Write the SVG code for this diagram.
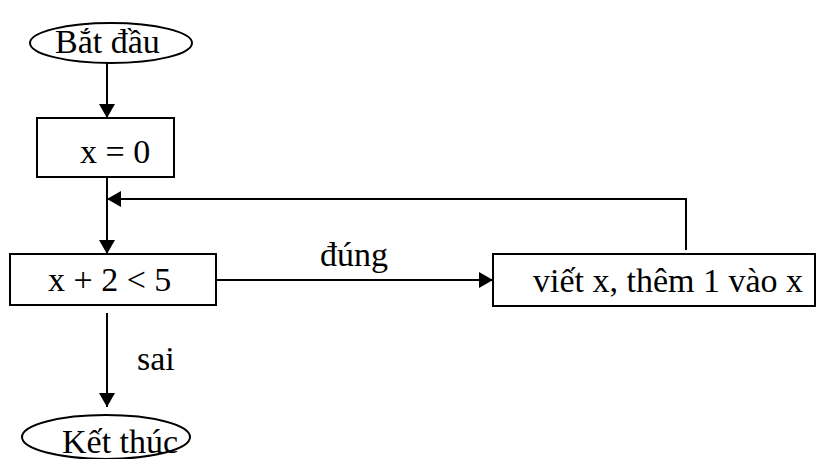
<svg xmlns="http://www.w3.org/2000/svg" width="818" height="459" viewBox="0 0 818 459">
<style>
.t{font-family:"Liberation Serif","Times New Roman",serif;font-size:34px;fill:#000}
.s{fill:#fff;stroke:#000;stroke-width:2}
.c{fill:none;stroke:#000;stroke-width:2}
</style>
<defs>
<marker id="ah" viewBox="0 0 14 16" refX="14" refY="8" markerWidth="14" markerHeight="16" markerUnits="userSpaceOnUse" orient="auto">
<path d="M0,0 L14,8 L0,16 Z" fill="#000"/>
</marker>
</defs>
<rect width="818" height="459" fill="#fff"/>
<g id="connectors">
<line class="c" x1="107" y1="63" x2="107" y2="118" marker-end="url(#ah)"/>
<line class="c" x1="107" y1="177" x2="107" y2="254" marker-end="url(#ah)"/>
<polyline class="c" points="686,250 686,199 107,199" marker-end="url(#ah)"/>
<line class="c" x1="216" y1="280" x2="493" y2="280" marker-end="url(#ah)"/>
<line class="c" x1="107" y1="313" x2="107" y2="407" marker-end="url(#ah)"/>
<text class="t" x="320" y="266">đúng</text>
<text class="t" x="137" y="370">sai</text>
</g>
<g id="start">
<ellipse class="s" cx="111" cy="43" rx="81" ry="20"/>
<text class="t" x="55" y="53">Bắt đầu</text>
</g>
<g id="init">
<rect class="s" x="37" y="118" width="137" height="59"/>
<text class="t" x="80" y="163">x = 0</text>
</g>
<g id="cond">
<rect class="s" x="10" y="254" width="206" height="51"/>
<text class="t" x="48" y="291">x + 2 &lt; 5</text>
</g>
<g id="body">
<rect class="s" x="493" y="254" width="322" height="52"/>
<text class="t" x="533" y="292">viết x, thêm 1 vào x</text>
</g>
<g id="end">
<ellipse class="s" cx="106" cy="437" rx="84" ry="22"/>
<text class="t" x="62" y="453">Kết thúc</text>
</g>
</svg>
